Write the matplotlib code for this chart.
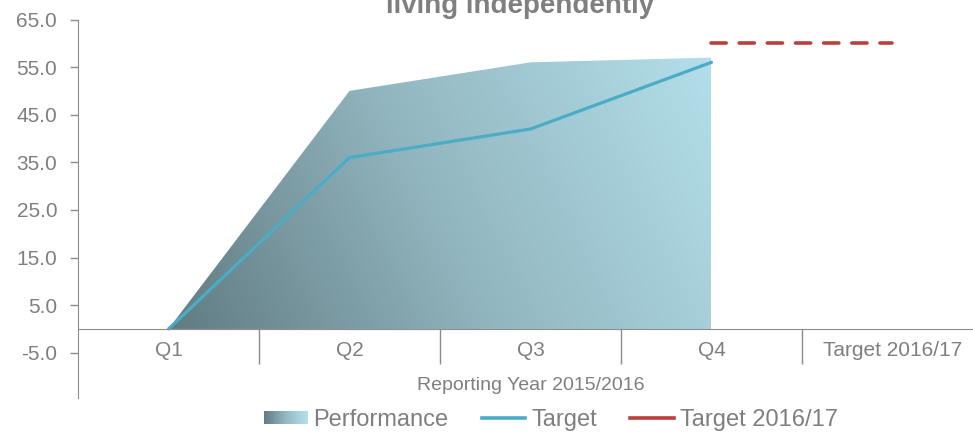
import numpy as np
import matplotlib
matplotlib.use("Agg")
import matplotlib.pyplot as plt
from matplotlib.colors import LinearSegmentedColormap
from matplotlib.patches import Rectangle, Polygon
from matplotlib.legend_handler import HandlerBase
from matplotlib.lines import Line2D

plt.rcParams['font.family'] = ['Liberation Sans', 'DejaVu Sans']

# ---- data ----
categories = ['Q1', 'Q2', 'Q3', 'Q4', 'Target 2016/17']
performance = [0.0, 50.0, 56.0, 57.0]
target = [0.0, 36.0, 42.0, 56.0]
target_1617 = [np.nan, np.nan, np.nan, 60.0, 60.0]
yticks = [-5.0, 5.0, 15.0, 25.0, 35.0, 45.0, 55.0, 65.0]
title = "living independently"
xlabel = "Reporting Year 2015/2016"

GRAY = '#7f7f7f'
AXIS = '#8c8c8c'
BLUE = '#4bacc6'
RED = '#b8403d'
cmap = LinearSegmentedColormap.from_list('perf', ['#617b82', '#93b7c1', '#b3dfea'])

fig = plt.figure(figsize=(9.73, 4.34), dpi=100)
ax = fig.add_axes([78/973, 1 - 398/434, 1 - 78/973, (398 - 19.5)/434])

x = np.arange(len(categories))
xp = x[:len(performance)]

# gradient filled area
ax.fill_between(xp, 0, performance, facecolor='none', edgecolor='none')
xx, yy = np.meshgrid(np.linspace(0, 1, 300), np.linspace(0, 1, 200))
grad = 0.8 * xx + 0.2 * yy
img = ax.imshow(grad, cmap=cmap, extent=[xp[0], xp[-1], 0, max(performance)],
                origin='lower', aspect='auto', zorder=1, vmin=0, vmax=1)
verts = np.vstack([np.column_stack([xp, performance]),
                   np.column_stack([xp[::-1], np.zeros(len(xp))])])
clip = Polygon(verts, closed=True, transform=ax.transData, facecolor='none', edgecolor='none')
ax.add_patch(clip)
img.set_clip_path(clip)

ax.plot(x[:len(target)], target, color=BLUE, lw=2.3, zorder=3, solid_capstyle='round')
ax.plot(x, target_1617, color=RED, lw=2.6, zorder=3, dashes=(4.2, 3.6), dash_capstyle='round')

for s in ['top', 'right']:
    ax.spines[s].set_visible(False)
ax.spines['left'].set_color(AXIS)
ax.spines['bottom'].set_color(AXIS)
ax.spines['bottom'].set_position(('data', 0))
ax.spines['left'].set_zorder(4)
ax.spines['bottom'].set_zorder(4)

ax.set_yticks(yticks)
ax.set_yticklabels([f"{v:.1f}" for v in yticks])
ax.tick_params(axis='y', length=6, width=1, color=AXIS, labelcolor=GRAY, labelsize=15, pad=9)

ax.set_xticks(x)
ax.set_xticklabels(categories)
ax.set_xticks(x[:-1] + 0.5, minor=True)
ax.tick_params(axis='x', which='major', length=0, labelcolor=GRAY, labelsize=15, pad=9)
ax.tick_params(axis='x', which='minor', length=25, width=1, color=AXIS, direction='out')

ax.set_xlim(-0.5, 4.445)
ax.set_ylim(-14.5, 65)

ax.set_xlabel(xlabel, color=GRAY, fontsize=14)
ax.xaxis.set_label_coords(0.506, 0.034)
ax.xaxis.label.set_va('center')

fig.text(0.535, 0.971, title, ha='center', va='baseline', fontsize=20,
         fontweight='bold', color=GRAY)


class GradientHandler(HandlerBase):
    def create_artists(self, legend, orig_handle, xdescent, ydescent,
                       width, height, fontsize, trans):
        n = 30
        arts = []
        h = height * 0.8
        y0 = -ydescent + (height - h) / 2
        for i in range(n):
            r = Rectangle((-xdescent + width * i / n, y0), width / n * 1.05, h,
                          facecolor=cmap(i / (n - 1)), edgecolor='none', transform=trans)
            arts.append(r)
        return arts


perf_handle = Rectangle((0, 0), 1, 1)
h_target = Line2D([], [], color=BLUE, lw=2.6)
h_t1617 = Line2D([], [], color=RED, lw=2.6)
leg = fig.legend([perf_handle, h_target, h_t1617], ['Performance', 'Target', 'Target 2016/17'],
                 handler_map={Rectangle: GradientHandler()},
                 loc='center', bbox_to_anchor=(0.566, 0.032), ncol=3, frameon=False,
                 fontsize=17, handlelength=1.85, handletextpad=0.25, columnspacing=1.4,
                 borderpad=0, borderaxespad=0)
for t in leg.get_texts():
    t.set_color(GRAY)

fig.savefig('out.png', dpi=100)
